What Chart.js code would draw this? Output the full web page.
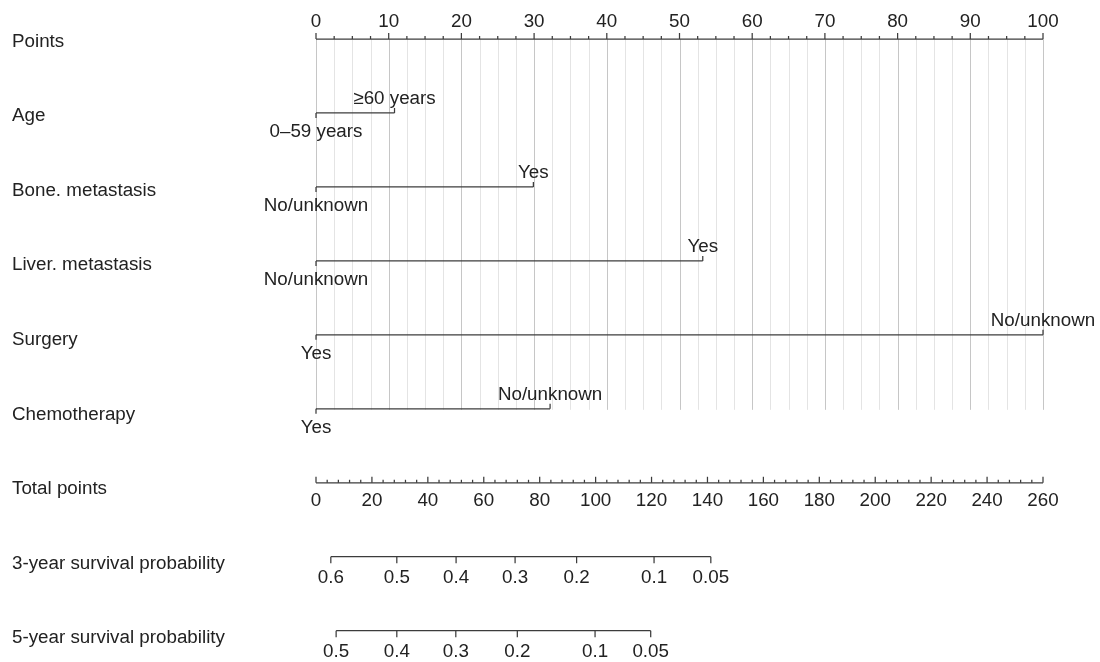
<!DOCTYPE html>
<html>
<head>
<meta charset="utf-8">
<title>Nomogram</title>
<script src="https://cdn.jsdelivr.net/npm/chart.js@4.4.1/dist/chart.umd.min.js"></script>
<style>
  html, body { margin: 0; padding: 0; background: #ffffff; }
  #wrap { width: 1100px; height: 662px; }
</style>
</head>
<body>
<div id="wrap"><canvas id="nomo" width="1100" height="662"></canvas></div>
<script>
// ---- Rows of the nomogram (top to bottom) ----
const rowNames = [
  'Points',
  'Age',
  'Bone. metastasis',
  'Liver. metastasis',
  'Surgery',
  'Chemotherapy',
  'Total points',
  '3-year survival probability',
  '5-year survival probability'
];

// ---- Points scale ----
const pointsTicks = [0, 10, 20, 30, 40, 50, 60, 70, 80, 90, 100];
const pointsMinorStep = 2.5;

// ---- Predictor levels and their points ----
const ageLevels = ['0–59 years', '≥60 years'];
const agePoints = [0, 10.8];
const boneLevels = ['No/unknown', 'Yes'];
const bonePoints = [0, 29.9];
const liverLevels = ['No/unknown', 'Yes'];
const liverPoints = [0, 53.2];
const surgeryLevels = ['Yes', 'No/unknown'];
const surgeryPoints = [0, 100];
const chemoLevels = ['Yes', 'No/unknown'];
const chemoPoints = [0, 32.2];

// ---- Total points scale ----
const totalMax = 260;
const totalTicks = [0, 20, 40, 60, 80, 100, 120, 140, 160, 180, 200, 220, 240, 260];
const totalMinorStep = 4;

// ---- Survival probability scales (positions in total points) ----
const surv3Labels = ['0.6', '0.5', '0.4', '0.3', '0.2', '0.1', '0.05'];
const surv3Total = [5.3, 28.9, 50.1, 71.2, 93.2, 120.9, 141.2];
const surv5Labels = ['0.5', '0.4', '0.3', '0.2', '0.1', '0.05'];
const surv5Total = [7.2, 28.9, 50.0, 72.0, 99.8, 119.7];

const predictors = [
  { name: 'Age', levels: ageLevels, points: agePoints },
  { name: 'Bone. metastasis', levels: boneLevels, points: bonePoints },
  { name: 'Liver. metastasis', levels: liverLevels, points: liverPoints },
  { name: 'Surgery', levels: surgeryLevels, points: surgeryPoints },
  { name: 'Chemotherapy', levels: chemoLevels, points: chemoPoints }
];

const FONT = '18.8px "Liberation Sans", Arial, Helvetica, sans-serif';
const TEXT = '#222222';
const INK = '#3c3c3c';
const GRID_MAJOR = '#c6c6c6';
const GRID_MINOR = '#e4e4e4';

const rowOf = name => rowNames.indexOf(name);
const totalToPoints = t => t * 100 / totalMax;

function hLine(ctx, x0, x1, y) {
  ctx.beginPath(); ctx.moveTo(x0, y); ctx.lineTo(x1, y); ctx.stroke();
}
function vLine(ctx, x, y0, y1) {
  ctx.beginPath(); ctx.moveTo(x, y0); ctx.lineTo(x, y1); ctx.stroke();
}
function label(ctx, text, x, baseline, align) {
  ctx.textAlign = align || 'center';
  ctx.fillText(text, x, baseline);
}

const nomogramPlugin = {
  id: 'nomogram',
  beforeDatasetsDraw(chart) {
    const { ctx, scales: { x, y } } = chart;
    const top = y.getPixelForValue(rowOf('Points'));
    const bottom = y.getPixelForValue(rowOf('Chemotherapy')) + 1;
    ctx.save();
    ctx.lineWidth = 1;
    // light grid at every minor step, darker at labelled points
    for (let v = 0; v <= 100 + 1e-9; v += pointsMinorStep) {
      const major = pointsTicks.some(t => Math.abs(t - v) < 1e-6);
      ctx.strokeStyle = major ? GRID_MAJOR : GRID_MINOR;
      const px = Math.round(x.getPixelForValue(v)) + 0.5;
      vLine(ctx, px, top, bottom);
    }
    ctx.restore();
  },
  afterDatasetsDraw(chart) {
    const { ctx, scales: { x, y } } = chart;
    ctx.save();
    ctx.font = FONT;
    ctx.fillStyle = TEXT;
    ctx.strokeStyle = INK;
    ctx.lineWidth = 1.25;

    // row names on the left
    rowNames.forEach((name, i) => {
      label(ctx, name, 12, y.getPixelForValue(i) + 7.7 + 0.6 * i, 'left');
    });

    // Points axis (ticks point upward, labels above)
    const yp = y.getPixelForValue(rowOf('Points'));
    hLine(ctx, x.getPixelForValue(0), x.getPixelForValue(100), yp);
    for (let v = 0; v <= 100 + 1e-9; v += pointsMinorStep) {
      const major = pointsTicks.some(t => Math.abs(t - v) < 1e-6);
      const px = x.getPixelForValue(v);
      vLine(ctx, px, yp, yp - (major ? 6 : 3));
    }
    pointsTicks.forEach(t => label(ctx, String(t), x.getPixelForValue(t), yp - 12.3));

    // predictor end ticks and level labels
    predictors.forEach(p => {
      const yr = y.getPixelForValue(rowOf(p.name));
      const order = p.points.map((v, i) => i).sort((a, b) => p.points[a] - p.points[b]);
      order.forEach((idx, k) => {
        const px = x.getPixelForValue(p.points[idx]);
        const below = k % 2 === 0;
        vLine(ctx, px, yr, yr + (below ? 5 : -5));
        label(ctx, p.levels[idx], px, below ? yr + 24.5 : yr - 9);
      });
    });

    // Total points axis (ticks upward, labels below)
    const yt = y.getPixelForValue(rowOf('Total points'));
    hLine(ctx, x.getPixelForValue(0), x.getPixelForValue(totalToPoints(totalMax)), yt);
    for (let t = 0; t <= totalMax + 1e-9; t += totalMinorStep) {
      const major = totalTicks.includes(t);
      vLine(ctx, x.getPixelForValue(totalToPoints(t)), yt, yt - (major ? 6 : 3));
    }
    totalTicks.forEach(t => label(ctx, String(t), x.getPixelForValue(totalToPoints(t)), yt + 23.7));

    // survival probability axes (ticks downward, labels below)
    [[rowOf('3-year survival probability'), surv3Labels, surv3Total],
     [rowOf('5-year survival probability'), surv5Labels, surv5Total]].forEach(([row, labs, pos]) => {
      const ys = y.getPixelForValue(row);
      const pxs = pos.map(t => x.getPixelForValue(totalToPoints(t)));
      hLine(ctx, Math.min(...pxs), Math.max(...pxs), ys);
      pxs.forEach((px, i) => {
        vLine(ctx, px, ys, ys + 6.5);
        label(ctx, labs[i], px, ys + 25.8);
      });
    });

    ctx.restore();
  }
};

const datasets = predictors.map(p => ({
  label: p.name,
  data: [
    { x: Math.min(...p.points), y: rowOf(p.name) },
    { x: Math.max(...p.points), y: rowOf(p.name) }
  ],
  borderColor: INK,
  borderWidth: 1.25,
  pointRadius: 0,
  showLine: true,
  fill: false
}));

new Chart(document.getElementById('nomo'), {
  type: 'scatter',
  data: { datasets },
  options: {
    responsive: false,
    animation: false,
    devicePixelRatio: 1,
    layout: { padding: { left: 316, right: 57, top: 39, bottom: 31.3 } },
    plugins: { legend: { display: false }, tooltip: { enabled: false } },
    scales: {
      x: { type: 'linear', min: 0, max: 100, display: false },
      y: { type: 'linear', min: 0, max: rowNames.length - 1, reverse: true, display: false }
    }
  },
  plugins: [nomogramPlugin]
});
</script>
</body>
</html>
